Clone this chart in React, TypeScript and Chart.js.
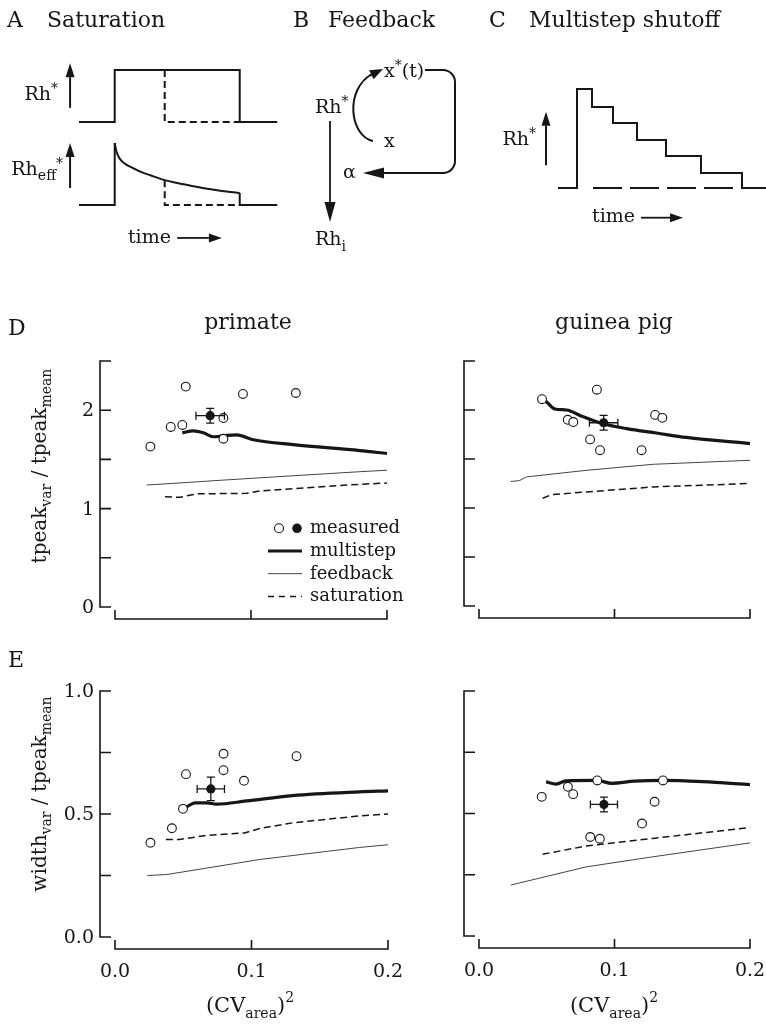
import React, { useEffect, useRef } from 'react';
import { Chart, registerables } from 'chart.js';

Chart.register(...registerables);

const W = 766;
const H = 1026;
const SERIF = '"DejaVu Serif", "Liberation Serif", serif';
const INK = '#161616';

// ---------------- shared axis ticks ----------------
const X_TICKS = [0, 0.1, 0.2];
const X_TICK_LABELS = ['0.0', '0.1', '0.2'];
const D_Y_TICKS = [0, 0.5, 1, 1.5, 2, 2.5];
const D_Y_LABELS = ['0', '', '1', '', '2', ''];
const E_Y_TICKS = [0, 0.25, 0.5, 0.75, 1];
const E_Y_LABELS = ['0.0', '', '0.5', '', '1.0'];

// ---------------- D primate ----------------
const D_PRI_OPEN_X = [0.026, 0.041, 0.0495, 0.052, 0.0797, 0.0797, 0.0941, 0.133];
const D_PRI_OPEN_Y = [1.63, 1.83, 1.85, 2.24, 1.92, 1.71, 2.165, 2.175];
const D_PRI_MEAN = [0.07, 1.944];
const D_PRI_ERR = [0.0105, 0.075];
const D_PRI_MULTI_X = [0.0495, 0.0576, 0.065, 0.0723, 0.0797, 0.0895, 0.1017, 0.131, 0.18, 0.2];
const D_PRI_MULTI_Y = [1.77, 1.79, 1.77, 1.73, 1.74, 1.75, 1.7, 1.65, 1.59, 1.56];
const D_PRI_FEED_X = [0.0233, 0.03, 0.08, 0.13, 0.18, 0.2];
const D_PRI_FEED_Y = [1.24, 1.245, 1.29, 1.333, 1.375, 1.39];
const D_PRI_SAT_X = [0.0368, 0.0478, 0.06, 0.0968, 0.1066, 0.18, 0.2];
const D_PRI_SAT_Y = [1.12, 1.115, 1.15, 1.155, 1.18, 1.247, 1.26];

// ---------------- D guinea pig ----------------
const D_GP_OPEN_X = [0.0465, 0.087, 0.0655, 0.0696, 0.082, 0.0893, 0.12, 0.13, 0.1353];
const D_GP_OPEN_Y = [2.11, 2.207, 1.9, 1.877, 1.7, 1.59, 1.59, 1.95, 1.92];
const D_GP_MEAN = [0.092, 1.87];
const D_GP_ERR = [0.0105, 0.075];
const D_GP_MULTI_X = [0.0465, 0.05, 0.056, 0.0647, 0.0745, 0.0917, 0.109, 0.131, 0.153, 0.2];
const D_GP_MULTI_Y = [2.11, 2.08, 2.01, 2.0, 1.945, 1.86, 1.81, 1.765, 1.72, 1.657];
const D_GP_FEED_X = [0.0234, 0.03, 0.035, 0.0795, 0.1287, 0.2];
const D_GP_FEED_Y = [1.27, 1.28, 1.317, 1.385, 1.446, 1.487];
const D_GP_SAT_X = [0.047, 0.0537, 0.0795, 0.1287, 0.2];
const D_GP_SAT_Y = [1.1, 1.137, 1.164, 1.215, 1.25];

// ---------------- E primate ----------------
const E_PRI_OPEN_X = [0.026, 0.0417, 0.0498, 0.052, 0.0795, 0.0795, 0.0945, 0.133];
const E_PRI_OPEN_Y = [0.383, 0.442, 0.521, 0.662, 0.745, 0.678, 0.635, 0.735];
const E_PRI_MEAN = [0.0702, 0.602];
const E_PRI_ERR = [0.01, 0.048];
const E_PRI_MULTI_X = [0.0525, 0.0586, 0.067, 0.0744, 0.0963, 0.13, 0.179, 0.2];
const E_PRI_MULTI_Y = [0.529, 0.545, 0.545, 0.54, 0.553, 0.575, 0.59, 0.594];
const E_PRI_FEED_X = [0.0237, 0.038, 0.106, 0.179, 0.2];
const E_PRI_FEED_Y = [0.25, 0.254, 0.315, 0.364, 0.375];
const E_PRI_SAT_X = [0.0373, 0.047, 0.067, 0.095, 0.106, 0.13, 0.179, 0.2];
const E_PRI_SAT_Y = [0.396, 0.396, 0.413, 0.423, 0.441, 0.464, 0.492, 0.5];

// ---------------- E guinea pig ----------------
const E_GP_OPEN_X = [0.0463, 0.0656, 0.0695, 0.0873, 0.0821, 0.0892, 0.1203, 0.1296, 0.1358];
const E_GP_OPEN_Y = [0.568, 0.609, 0.579, 0.635, 0.404, 0.397, 0.459, 0.548, 0.635];
const E_GP_MEAN = [0.0922, 0.537];
const E_GP_ERR = [0.01, 0.03];
const E_GP_MULTI_X = [0.0495, 0.057, 0.064, 0.087, 0.098, 0.115, 0.136, 0.165, 0.2];
const E_GP_MULTI_Y = [0.629, 0.62, 0.633, 0.635, 0.623, 0.632, 0.635, 0.63, 0.618];
const E_GP_FEED_X = [0.0235, 0.079, 0.128, 0.2];
const E_GP_FEED_Y = [0.208, 0.282, 0.323, 0.38];
const E_GP_SAT_X = [0.047, 0.079, 0.128, 0.2];
const E_GP_SAT_Y = [0.334, 0.367, 0.398, 0.443];

// ---------------- schematic A (saturation) ----------------
const A_TOP_T = [0, 2, 2, 9, 9, 11.1];
const A_TOP_Y = [0.615, 0.615, 1, 1, 0.615, 0.615];
const A_TOP_DASH_T = [4.8, 4.8, 9];
const A_TOP_DASH_Y = [1, 0.615, 0.615];
const A_EFF_CURVE_T = [2, 2.1, 2.3, 2.6, 3, 3.5, 4, 4.8, 5.5, 6.2, 7, 8, 9];
const A_EFF_CURVE_Y = [0.459, 0.395, 0.34, 0.303, 0.275, 0.243, 0.22, 0.184, 0.163, 0.145, 0.124, 0.104, 0.089];
const A_EFF_START_T = [0, 2, 2];
const A_EFF_START_Y = [0, 0, 0.459];
const A_EFF_END_T = [9, 9, 11.1];
const A_EFF_END_Y = [0.089, 0, 0];
const A_EFF_DASH_T = [4.8, 4.8, 9];
const A_EFF_DASH_Y = [0.184, 0, 0];

// ---------------- schematic C (multistep) ----------------
const C_STEP_T = [0, 1.9, 3.4, 5.5, 7.9, 10.8, 14.3, 18.4, 20.8];
const C_STEP_Y = [0, 1.0, 0.818, 0.657, 0.485, 0.323, 0.152, 0, 0];
const C_DASH_T = [3.5, 18.4];
const C_DASH_Y = [0, 0];

// ---------------- helpers ----------------
type Seg = { t: string; s: number; dy?: number };

function drawRich(ctx: CanvasRenderingContext2D, segs: Seg[], x: number, y: number, align: 'left' | 'center' | 'right', rot = 0) {
  ctx.save();
  ctx.translate(x, y);
  if (rot) ctx.rotate(rot);
  let w = 0;
  for (const g of segs) {
    ctx.font = `${g.s}px ${SERIF}`;
    w += ctx.measureText(g.t).width;
  }
  let cx = align === 'left' ? 0 : align === 'center' ? -w / 2 : -w;
  ctx.textAlign = 'left';
  ctx.textBaseline = 'alphabetic';
  ctx.fillStyle = INK;
  for (const g of segs) {
    ctx.font = `${g.s}px ${SERIF}`;
    ctx.fillText(g.t, cx, g.dy || 0);
    cx += ctx.measureText(g.t).width;
  }
  ctx.restore();
}

function arrow(ctx: CanvasRenderingContext2D, x1: number, y1: number, x2: number, y2: number, head = 14, half = 4.5, lw = 2) {
  const a = Math.atan2(y2 - y1, x2 - x1);
  const bx = x2 - head * Math.cos(a);
  const by = y2 - head * Math.sin(a);
  ctx.save();
  ctx.strokeStyle = INK;
  ctx.fillStyle = INK;
  ctx.lineWidth = lw;
  ctx.beginPath();
  ctx.moveTo(x1, y1);
  ctx.lineTo(bx, by);
  ctx.stroke();
  ctx.beginPath();
  ctx.moveTo(x2, y2);
  ctx.lineTo(bx + half * Math.sin(a), by - half * Math.cos(a));
  ctx.lineTo(bx - half * Math.sin(a), by + half * Math.cos(a));
  ctx.closePath();
  ctx.fill();
  ctx.restore();
}

function pts(xs: number[], ys: number[]) {
  return xs.map((x, i) => ({ x, y: ys[i] }));
}

type Area = { l: number; r: number; t: number; b: number };

function baseOptions(area: Area, xr: number[], yr: number[], pluginOpts: any, reverseY = false) {
  return {
    responsive: false,
    animation: false,
    devicePixelRatio: 1,
    events: [],
    layout: { padding: { left: area.l, top: area.t, right: W - area.r, bottom: H - area.b } },
    scales: {
      x: { type: 'linear', display: false, min: xr[0], max: xr[1] },
      y: { type: 'linear', display: false, min: yr[0], max: yr[1], reverse: reverseY },
    },
    plugins: { legend: { display: false }, tooltip: { enabled: false }, ...pluginOpts },
  };
}

function lineDs(data: any[], width: number, color: string, dash: number[] = [], extra: any = {}) {
  return {
    type: 'scatter',
    data,
    showLine: true,
    borderColor: color,
    borderWidth: width,
    borderDash: dash,
    pointRadius: 0,
    fill: false,
    clip: false,
    tension: 0,
    ...extra,
  };
}

// ---------------- plot panels ----------------
type PlotSpec = {
  area: Area;
  yMax: number;
  yTicks: number[];
  yLabels: string[];
  showYLabels: boolean;
  showXLabels: boolean;
  openX: number[];
  openY: number[];
  mean: number[];
  err: number[];
  multiX: number[];
  multiY: number[];
  feedX: number[];
  feedY: number[];
  satX: number[];
  satY: number[];
  legend?: boolean;
  texts: { segs: Seg[]; x: number; y: number; align: 'left' | 'center' | 'right'; rot?: number }[];
};

const AXIS_GAP_X = 15;
const AXIS_GAP_Y = 12;

const plotPlugin = {
  id: 'sciPlot',
  afterDatasetsDraw(chart: any, _a: any, o: any) {
    const ctx: CanvasRenderingContext2D = chart.ctx;
    const xs = chart.scales.x;
    const ys = chart.scales.y;
    const px = (v: number) => xs.getPixelForValue(v);
    const py = (v: number) => ys.getPixelForValue(v);
    ctx.save();
    ctx.strokeStyle = INK;
    ctx.fillStyle = INK;
    // error bars
    const [mx, my] = o.mean;
    const [ex, ey] = o.err;
    ctx.lineWidth = 1.3;
    const c = 4;
    ctx.beginPath();
    ctx.moveTo(px(mx - ex), py(my));
    ctx.lineTo(px(mx + ex), py(my));
    ctx.moveTo(px(mx), py(my - ey));
    ctx.lineTo(px(mx), py(my + ey));
    ctx.moveTo(px(mx - ex), py(my) - c);
    ctx.lineTo(px(mx - ex), py(my) + c);
    ctx.moveTo(px(mx + ex), py(my) - c);
    ctx.lineTo(px(mx + ex), py(my) + c);
    ctx.moveTo(px(mx) - c, py(my - ey));
    ctx.lineTo(px(mx) + c, py(my - ey));
    ctx.moveTo(px(mx) - c, py(my + ey));
    ctx.lineTo(px(mx) + c, py(my + ey));
    ctx.stroke();

    // axes
    const yTicks: number[] = o.yTicks;
    const yAxX = px(X_TICKS[0]) - AXIS_GAP_X;
    const xAxY = py(yTicks[0]) + AXIS_GAP_Y;
    ctx.lineWidth = 1.6;
    ctx.beginPath();
    ctx.moveTo(yAxX, py(yTicks[0]));
    ctx.lineTo(yAxX, py(yTicks[yTicks.length - 1]));
    for (const t of yTicks) {
      ctx.moveTo(yAxX - 0.8, py(t));
      ctx.lineTo(yAxX + 11, py(t));
    }
    ctx.moveTo(px(X_TICKS[0]), xAxY);
    ctx.lineTo(px(X_TICKS[X_TICKS.length - 1]), xAxY);
    for (const t of X_TICKS) {
      ctx.moveTo(px(t), xAxY + 0.8);
      ctx.lineTo(px(t), xAxY - 9);
    }
    ctx.stroke();

    ctx.fillStyle = INK;
    if (o.showYLabels) {
      ctx.font = `19px ${SERIF}`;
      ctx.textAlign = 'right';
      ctx.textBaseline = 'middle';
      yTicks.forEach((t: number, i: number) => {
        if (o.yLabels[i]) ctx.fillText(o.yLabels[i], yAxX - 6, py(t) + 1);
      });
    }
    if (o.showXLabels) {
      ctx.font = `19px ${SERIF}`;
      ctx.textAlign = 'center';
      ctx.textBaseline = 'middle';
      X_TICKS.forEach((t, i) => ctx.fillText(X_TICK_LABELS[i], px(t), xAxY + 23));
    }

    // legend
    if (o.legend) {
      const lx = px(0.1125);
      const ly = py(0.8);
      const rh = 22.7;
      ctx.lineWidth = 1.1;
      ctx.fillStyle = '#fff';
      ctx.beginPath();
      ctx.arc(lx + 11, ly, 4.5, 0, Math.PI * 2);
      ctx.fill();
      ctx.stroke();
      ctx.fillStyle = INK;
      ctx.beginPath();
      ctx.arc(lx + 29, ly, 4.8, 0, Math.PI * 2);
      ctx.fill();
      const styles = [
        { w: 3.2, c: INK, d: [] as number[] },
        { w: 1, c: '#444', d: [] as number[] },
        { w: 1.5, c: INK, d: [6, 5] },
      ];
      styles.forEach((s, i) => {
        const yy = ly + rh * (i + 1);
        ctx.lineWidth = s.w;
        ctx.strokeStyle = s.c;
        ctx.setLineDash(s.d);
        ctx.beginPath();
        ctx.moveTo(lx, yy);
        ctx.lineTo(lx + 34, yy);
        ctx.stroke();
      });
      ctx.setLineDash([]);
      ctx.fillStyle = INK;
      ctx.font = `18px ${SERIF}`;
      ctx.textAlign = 'left';
      ctx.textBaseline = 'alphabetic';
      ['measured', 'multistep', 'feedback', 'saturation'].forEach((t, i) => {
        ctx.fillText(t, lx + 42, ly + rh * i + 5);
      });
    }

    for (const tx of o.texts) drawRich(ctx, tx.segs, tx.x, tx.y, tx.align, tx.rot || 0);
    ctx.restore();
  },
};

function plotConfig(p: PlotSpec) {
  return {
    type: 'scatter',
    data: {
      datasets: [
        {
          type: 'scatter',
          data: pts(p.openX, p.openY),
          pointRadius: 4.4,
          pointBackgroundColor: '#ffffff',
          pointBorderColor: INK,
          pointBorderWidth: 1.1,
          showLine: false,
          order: 0,
          clip: false,
        },
        {
          type: 'scatter',
          data: [{ x: p.mean[0], y: p.mean[1] }],
          pointRadius: 4.6,
          pointBackgroundColor: INK,
          pointBorderColor: INK,
          pointBorderWidth: 0,
          showLine: false,
          order: 0,
          clip: false,
        },
        lineDs(pts(p.multiX, p.multiY), 3.2, INK, [], { order: 1, cubicInterpolationMode: 'monotone' }),
        lineDs(pts(p.feedX, p.feedY), 1, '#444', [], { order: 2 }),
        lineDs(pts(p.satX, p.satY), 1.5, INK, [7, 4], { order: 3 }),
      ],
    },
    options: baseOptions(p.area, [0, 0.2], [0, p.yMax], {
      sciPlot: {
        mean: p.mean,
        err: p.err,
        yTicks: p.yTicks,
        yLabels: p.yLabels,
        showYLabels: p.showYLabels,
        showXLabels: p.showXLabels,
        legend: !!p.legend,
        texts: p.texts,
      },
    }),
    plugins: [plotPlugin],
  };
}

const X_TITLE = (x: number) => ({
  segs: [
    { t: '(CV', s: 21 },
    { t: 'area', s: 14, dy: 6 },
    { t: ')', s: 21 },
    { t: '2', s: 14, dy: -10 },
  ],
  x,
  y: 1012,
  align: 'center' as const,
});

const PLOTS: PlotSpec[] = [
  {
    area: { l: 115, r: 387, t: 361, b: 607 },
    yMax: 2.5,
    yTicks: D_Y_TICKS,
    yLabels: D_Y_LABELS,
    showYLabels: true,
    showXLabels: false,
    openX: D_PRI_OPEN_X,
    openY: D_PRI_OPEN_Y,
    mean: D_PRI_MEAN,
    err: D_PRI_ERR,
    multiX: D_PRI_MULTI_X,
    multiY: D_PRI_MULTI_Y,
    feedX: D_PRI_FEED_X,
    feedY: D_PRI_FEED_Y,
    satX: D_PRI_SAT_X,
    satY: D_PRI_SAT_Y,
    legend: true,
    texts: [
      { segs: [{ t: 'D', s: 22 }], x: 8, y: 335, align: 'left' },
      { segs: [{ t: 'primate', s: 22 }], x: 248, y: 329, align: 'center' },
      {
        segs: [
          { t: 'tpeak', s: 20 },
          { t: 'var', s: 14, dy: 5 },
          { t: ' / ', s: 20 },
          { t: 'tpeak', s: 20 },
          { t: 'mean', s: 14, dy: 5 },
        ],
        x: 46,
        y: 466,
        align: 'center',
        rot: -Math.PI / 2,
      },
    ],
  },
  {
    area: { l: 479, r: 750, t: 361, b: 606 },
    yMax: 2.5,
    yTicks: D_Y_TICKS,
    yLabels: D_Y_LABELS,
    showYLabels: false,
    showXLabels: false,
    openX: D_GP_OPEN_X,
    openY: D_GP_OPEN_Y,
    mean: D_GP_MEAN,
    err: D_GP_ERR,
    multiX: D_GP_MULTI_X,
    multiY: D_GP_MULTI_Y,
    feedX: D_GP_FEED_X,
    feedY: D_GP_FEED_Y,
    satX: D_GP_SAT_X,
    satY: D_GP_SAT_Y,
    texts: [{ segs: [{ t: 'guinea pig', s: 22 }], x: 614, y: 329, align: 'center' }],
  },
  {
    area: { l: 115, r: 388, t: 691, b: 937 },
    yMax: 1,
    yTicks: E_Y_TICKS,
    yLabels: E_Y_LABELS,
    showYLabels: true,
    showXLabels: true,
    openX: E_PRI_OPEN_X,
    openY: E_PRI_OPEN_Y,
    mean: E_PRI_MEAN,
    err: E_PRI_ERR,
    multiX: E_PRI_MULTI_X,
    multiY: E_PRI_MULTI_Y,
    feedX: E_PRI_FEED_X,
    feedY: E_PRI_FEED_Y,
    satX: E_PRI_SAT_X,
    satY: E_PRI_SAT_Y,
    texts: [
      { segs: [{ t: 'E', s: 22 }], x: 8, y: 667, align: 'left' },
      {
        segs: [
          { t: 'width', s: 20 },
          { t: 'var', s: 14, dy: 5 },
          { t: ' / ', s: 20 },
          { t: 'tpeak', s: 20 },
          { t: 'mean', s: 14, dy: 5 },
        ],
        x: 46,
        y: 794,
        align: 'center',
        rot: -Math.PI / 2,
      },
      X_TITLE(250),
    ],
  },
  {
    area: { l: 479, r: 750, t: 691, b: 936 },
    yMax: 1,
    yTicks: E_Y_TICKS,
    yLabels: E_Y_LABELS,
    showYLabels: false,
    showXLabels: true,
    openX: E_GP_OPEN_X,
    openY: E_GP_OPEN_Y,
    mean: E_GP_MEAN,
    err: E_GP_ERR,
    multiX: E_GP_MULTI_X,
    multiY: E_GP_MULTI_Y,
    feedX: E_GP_FEED_X,
    feedY: E_GP_FEED_Y,
    satX: E_GP_SAT_X,
    satY: E_GP_SAT_Y,
    texts: [X_TITLE(614)],
  },
];

// ---------------- schematic A ----------------
const schemAPlugin = {
  id: 'schemA',
  afterDatasetsDraw(chart: any) {
    const ctx: CanvasRenderingContext2D = chart.ctx;
    const px = (v: number) => chart.scales.x.getPixelForValue(v);
    const py = (v: number) => chart.scales.y.getPixelForValue(v);
    drawRich(ctx, [{ t: 'A', s: 22 }], 7, 27, 'left');
    drawRich(ctx, [{ t: 'Saturation', s: 22 }], 47, 27, 'left');
    arrow(ctx, px(-0.5), py(0.72), px(-0.5), py(1.05));
    arrow(ctx, px(-0.5), py(0.126), px(-0.5), py(0.459));
    drawRich(ctx, [{ t: 'Rh', s: 19 }, { t: '*', s: 14, dy: -7 }], px(-0.5) - 12, py(0.78), 'right');
    drawRich(
      ctx,
      [{ t: 'Rh', s: 19 }, { t: 'eff', s: 14, dy: 5 }, { t: '*', s: 14, dy: -7 }],
      px(-0.5) - 7,
      py(0.222),
      'right'
    );
    drawRich(ctx, [{ t: 'time', s: 19 }], px(2.74), py(-0.28), 'left');
    arrow(ctx, px(5.5), py(-0.244), px(8.0), py(-0.244), 13, 4.5, 1.8);
  },
};

function configA() {
  return {
    type: 'scatter',
    data: {
      datasets: [
        lineDs(pts(A_TOP_T, A_TOP_Y), 2, INK),
        lineDs(pts(A_TOP_DASH_T, A_TOP_DASH_Y), 2, INK, [7, 4]),
        lineDs(pts(A_EFF_START_T, A_EFF_START_Y), 2, INK),
        lineDs(pts(A_EFF_CURVE_T, A_EFF_CURVE_Y), 2, INK, [], { cubicInterpolationMode: 'monotone' }),
        lineDs(pts(A_EFF_END_T, A_EFF_END_Y), 2, INK),
        lineDs(pts(A_EFF_DASH_T, A_EFF_DASH_Y), 2, INK, [7, 4]),
      ],
    },
    options: baseOptions({ l: 79, r: 279, t: 70, b: 205 }, [0, 11.2], [0, 1], {}),
    plugins: [schemAPlugin],
  };
}

// ---------------- schematic B (diagram only) ----------------
const schemBPlugin = {
  id: 'schemB',
  afterDraw(chart: any) {
    const ctx: CanvasRenderingContext2D = chart.ctx;
    const px = (v: number) => chart.scales.x.getPixelForValue(v);
    const py = (v: number) => chart.scales.y.getPixelForValue(v);
    drawRich(ctx, [{ t: 'B', s: 22 }], px(-7), py(-23), 'left');
    drawRich(ctx, [{ t: 'Feedback', s: 22 }], px(28), py(-23), 'left');
    drawRich(ctx, [{ t: 'Rh', s: 19 }, { t: '*', s: 14, dy: -7 }], px(15), py(63), 'left');
    arrow(ctx, px(30), py(71), px(30), py(172), 20, 5.5, 1.8);
    drawRich(ctx, [{ t: 'Rh', s: 19 }, { t: 'i', s: 14, dy: 6 }], px(15), py(195), 'left');
    ctx.save();
    ctx.strokeStyle = INK;
    ctx.fillStyle = INK;
    ctx.lineWidth = 2;
    ctx.beginPath();
    ctx.moveTo(px(73), py(91));
    ctx.bezierCurveTo(px(50), py(86), px(44), py(40), px(72), py(24));
    ctx.stroke();
    ctx.restore();
    arrow(ctx, px(70), py(25.5), px(83), py(19), 13, 5, 2);
    drawRich(ctx, [{ t: 'x', s: 19 }, { t: '*', s: 14, dy: -7 }, { t: '(t)', s: 19 }], px(84), py(27), 'left');
    drawRich(ctx, [{ t: 'x', s: 19 }], px(84), py(97), 'left');
    ctx.save();
    ctx.strokeStyle = INK;
    ctx.lineWidth = 2;
    ctx.beginPath();
    ctx.moveTo(px(125), py(20));
    ctx.lineTo(px(143), py(20));
    ctx.arcTo(px(155), py(20), px(155), py(32), 12);
    ctx.lineTo(px(155), py(111));
    ctx.arcTo(px(155), py(123), px(143), py(123), 12);
    ctx.lineTo(px(100), py(123));
    ctx.stroke();
    ctx.restore();
    arrow(ctx, px(101), py(123), px(63), py(123), 21, 5.5, 2);
    drawRich(ctx, [{ t: 'α', s: 19 }], px(43), py(128), 'left');
  },
};

function configB() {
  return {
    type: 'scatter',
    data: { datasets: [] },
    options: baseOptions({ l: 300, r: 470, t: 50, b: 250 }, [0, 170], [0, 200], {}, true),
    plugins: [schemBPlugin],
  };
}

// ---------------- schematic C ----------------
const schemCPlugin = {
  id: 'schemC',
  afterDatasetsDraw(chart: any) {
    const ctx: CanvasRenderingContext2D = chart.ctx;
    const px = (v: number) => chart.scales.x.getPixelForValue(v);
    const py = (v: number) => chart.scales.y.getPixelForValue(v);
    drawRich(ctx, [{ t: 'C', s: 22 }], 489, 27, 'left');
    drawRich(ctx, [{ t: 'Multistep shutoff', s: 22 }], 529, 27, 'left');
    arrow(ctx, px(-1.2), py(0.23), px(-1.2), py(0.77));
    drawRich(ctx, [{ t: 'Rh', s: 19 }, { t: '*', s: 14, dy: -7 }], px(-1.2) - 10, py(0.43), 'right');
    drawRich(ctx, [{ t: 'time', s: 19 }], px(3.4), py(-0.345), 'left');
    arrow(ctx, px(8.3), py(-0.3), px(12.5), py(-0.3), 13, 4.5, 1.8);
  },
};

function configC() {
  return {
    type: 'scatter',
    data: {
      datasets: [
        lineDs(pts(C_STEP_T, C_STEP_Y), 2, INK, [], { stepped: 'before' }),
        lineDs(pts(C_DASH_T, C_DASH_Y), 2, INK, [29, 8]),
      ],
    },
    options: baseOptions({ l: 558, r: 766, t: 89, b: 188 }, [0, 20.8], [0, 1], {}),
    plugins: [schemCPlugin],
  };
}

export default function App() {
  const refs = useRef<(HTMLCanvasElement | null)[]>([]);
  const N = 3 + PLOTS.length;
  useEffect(() => {
    const cfgs: any[] = [configA(), configB(), configC(), ...PLOTS.map(plotConfig)];
    const charts = cfgs.map((cfg, i) => new Chart(refs.current[i] as HTMLCanvasElement, cfg));
    return () => charts.forEach((c) => c.destroy());
  }, []);
  return (
    <div style={{ position: 'absolute', left: 0, top: 0, width: W, height: H, background: '#fff', overflow: 'hidden' }}>
      {Array.from({ length: N }).map((_, i) => (
        <canvas
          key={i}
          ref={(el) => {
            refs.current[i] = el;
          }}
          width={W}
          height={H}
          style={{ position: 'absolute', left: 0, top: 0, width: W, height: H }}
        />
      ))}
    </div>
  );
}
